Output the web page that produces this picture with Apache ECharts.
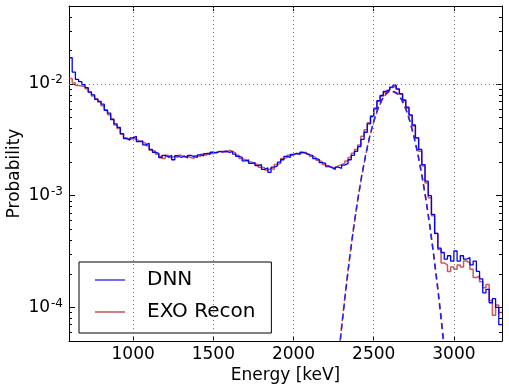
<!DOCTYPE html>
<html>
<head>
<meta charset="utf-8">
<script src="https://cdn.jsdelivr.net/npm/echarts@6/dist/echarts.min.js"></script>
<style>
  html, body { margin: 0; padding: 0; background: #fff; }
  #echartsMain { width: 509px; height: 391px; }
</style>
</head>
<body>
<div id="echartsMain"></div>
<script type="text/javascript">
// histogram bins: left edges 600, 620, ... 3280 keV, width 20 keV
var binStart = 600;
var binWidth = 20;

// DNN histogram (probability per bin)
var dnnValues = [
  1.72e-2, 1.28e-2, 1.10e-2, 1.05e-2, 9.9e-3, 9.3e-3, 8.5e-3, 8.0e-3, 7.3e-3, 7.0e-3,
  6.6e-3, 5.8e-3, 5.5e-3, 4.8e-3, 4.4e-3, 4.1e-3, 3.6e-3, 3.25e-3, 3.15e-3, 3.3e-3,
  3.4e-3, 3.05e-3, 3.1e-3, 2.85e-3, 2.95e-3, 2.6e-3, 2.45e-3, 2.4e-3, 2.2e-3, 2.3e-3,
  2.22e-3, 2.3e-3, 2.1e-3, 2.28e-3, 2.2e-3, 2.27e-3, 2.18e-3, 2.3e-3, 2.24e-3, 2.2e-3,
  2.32e-3, 2.28e-3, 2.38e-3, 2.34e-3, 2.45e-3, 2.42e-3, 2.5e-3, 2.46e-3, 2.52e-3, 2.44e-3,
  2.48e-3, 2.36e-3, 2.25e-3, 2.2e-3, 2.05e-3, 2.1e-3, 1.95e-3, 1.98e-3, 1.86e-3, 1.9e-3,
  1.72e-3, 1.78e-3, 1.62e-3, 1.8e-3, 1.85e-3, 2.0e-3, 2.1e-3, 2.25e-3, 2.2e-3, 2.34e-3,
  2.38e-3, 2.35e-3, 2.45e-3, 2.4e-3, 2.32e-3, 2.3e-3, 2.15e-3, 2.12e-3, 1.98e-3, 1.95e-3,
  1.85e-3, 1.78e-3, 1.72e-3, 1.8e-3, 1.76e-3, 1.88e-3, 1.95e-3, 2.1e-3, 2.3e-3, 2.5e-3,
  2.75e-3, 3.2e-3, 3.7e-3, 4.4e-3, 5.1e-3, 6.0e-3, 7.1e-3, 7.9e-3, 8.6e-3, 8.9e-3,
  9.4e-3, 9.8e-3, 9.0e-3, 8.2e-3, 7.2e-3, 6.2e-3, 5.3e-3, 4.3e-3, 3.3e-3, 2.6e-3,
  1.9e-3, 1.35e-3, 1.0e-3, 6.8e-4, 4.6e-4, 3.4e-4, 3.1e-4, 2.7e-4, 2.9e-4, 2.6e-4,
  3.2e-4, 2.6e-4, 2.9e-4, 2.7e-4, 2.8e-4, 2.4e-4, 2.6e-4, 2.1e-4, 1.8e-4, 1.35e-4,
  1.45e-4, 1.1e-4, 1.2e-4, 1.0e-4, 7.0e-5
];

// EXO Recon histogram
var exoValues = [
  1.12e-2, 1.02e-2, 9.7e-3, 9.6e-3, 9.5e-3, 9.1e-3, 8.4e-3, 7.8e-3, 7.4e-3, 6.9e-3,
  6.4e-3, 5.9e-3, 5.3e-3, 4.9e-3, 4.3e-3, 4.0e-3, 3.55e-3, 3.3e-3, 3.2e-3, 3.25e-3,
  3.2e-3, 3.1e-3, 3.0e-3, 2.95e-3, 2.8e-3, 2.55e-3, 2.5e-3, 2.35e-3, 2.25e-3, 2.15e-3,
  2.3e-3, 2.2e-3, 2.25e-3, 2.2e-3, 2.3e-3, 2.22e-3, 2.26e-3, 2.2e-3, 2.15e-3, 2.28e-3,
  2.25e-3, 2.35e-3, 2.3e-3, 2.4e-3, 2.38e-3, 2.46e-3, 2.48e-3, 2.5e-3, 2.45e-3, 2.55e-3,
  2.5e-3, 2.4e-3, 2.3e-3, 2.15e-3, 2.1e-3, 2.02e-3, 2.0e-3, 1.92e-3, 1.9e-3, 1.8e-3,
  1.78e-3, 1.7e-3, 1.75e-3, 1.72e-3, 1.9e-3, 1.95e-3, 2.15e-3, 2.2e-3, 2.3e-3, 2.32e-3,
  2.4e-3, 2.38e-3, 2.42e-3, 2.45e-3, 2.35e-3, 2.25e-3, 2.2e-3, 2.08e-3, 2.0e-3, 1.9e-3,
  1.82e-3, 1.8e-3, 1.78e-3, 1.85e-3, 1.9e-3, 1.95e-3, 2.05e-3, 2.2e-3, 2.4e-3, 2.6e-3,
  2.85e-3, 3.4e-3, 3.9e-3, 4.5e-3, 5.2e-3, 6.1e-3, 7.0e-3, 7.8e-3, 8.4e-3, 8.8e-3,
  9.3e-3, 9.6e-3, 9.1e-3, 8.1e-3, 7.1e-3, 6.1e-3, 5.2e-3, 4.2e-3, 3.3e-3, 2.5e-3,
  1.85e-3, 1.3e-3, 9.6e-4, 6.6e-4, 4.6e-4, 3.3e-4, 2.5e-4, 2.4e-4, 2.1e-4, 2.3e-4,
  2.2e-4, 2.4e-4, 2.3e-4, 2.6e-4, 2.5e-4, 2.2e-4, 1.85e-4, 1.9e-4, 1.7e-4, 1.5e-4,
  1.6e-4, 1.15e-4, 8.5e-5, 1.05e-4, 9.0e-5
];

// fitted peak curves (dashed)
var fitEnergy = [2280, 2300, 2325, 2350, 2375, 2400, 2425, 2450, 2475, 2500, 2525, 2550, 2575, 2600, 2613,
                 2625, 2650, 2675, 2700, 2725, 2750, 2775, 2800, 2825, 2850, 2875, 2900, 2925, 2950];
var fitDnn = [3.44e-5, 6.57e-5, 1.39e-4, 2.77e-4, 5.18e-4, 9.11e-4, 1.50e-3, 2.33e-3, 3.40e-3, 4.65e-3,
              5.98e-3, 7.22e-3, 8.19e-3, 8.73e-3, 8.8e-3, 8.74e-3, 8.22e-3, 7.26e-3, 6.03e-3, 4.70e-3,
              3.44e-3, 2.37e-3, 1.53e-3, 9.3e-4, 5.31e-4, 2.84e-4, 1.43e-4, 6.78e-5, 3.0e-5];
var fitExo = [3.6e-5, 6.8e-5, 1.42e-4, 2.8e-4, 5.2e-4, 9.1e-4, 1.49e-3, 2.3e-3, 3.35e-3, 4.58e-3,
              5.9e-3, 7.1e-3, 8.05e-3, 8.6e-3, 8.65e-3, 8.6e-3, 8.1e-3, 7.18e-3, 5.98e-3, 4.68e-3,
              3.44e-3, 2.38e-3, 1.55e-3, 9.5e-4, 5.45e-4, 2.95e-4, 1.5e-4, 7.2e-5, 3.3e-5];

// axis ticks
var xTicks = [1000, 1500, 2000, 2500, 3000];
var yMajor = [1e-4, 1e-3, 1e-2];
var yMinor = [6e-5, 7e-5, 8e-5, 9e-5, 2e-4, 3e-4, 4e-4, 5e-4, 6e-4, 7e-4, 8e-4, 9e-4,
              2e-3, 3e-3, 4e-3, 5e-3, 6e-3, 7e-3, 8e-3, 9e-3, 2e-2, 3e-2, 4e-2];

var font = 'DejaVu Sans';

function histPoints(vals) {
    var d = [];
    for (var i = 0; i < vals.length; i++) {
        d.push([binStart + i * binWidth, vals[i]]);
    }
    d.push([binStart + vals.length * binWidth, vals[vals.length - 1]]);
    return d;
}
function pairs(xs, ys) {
    var d = [];
    for (var i = 0; i < xs.length; i++) d.push([xs[i], ys[i]]);
    return d;
}

var myChart = echarts.init(document.getElementById('echartsMain'));

var frame = { lineStyle: { color: '#000', width: 1 } };
function yAx(pos, ticks, len, withLabel, withLine) {
    return {
        type: 'log', logBase: 10, min: 5e-5, max: 5e-2, position: pos,
        axisLine: { show: withLine, lineStyle: frame.lineStyle },
        axisTick: { show: true, inside: true, length: len, customValues: ticks, lineStyle: { color: '#000' } },
        axisLabel: withLabel ? {
            show: true, customValues: ticks, margin: 6,
            formatter: function (v) {
                return '{b|10}{s|' + Math.round(Math.log10(v)) + '}';
            },
            rich: {
                b: { fontSize: 17, fontFamily: font, color: '#000' },
                s: { fontSize: 12, fontFamily: font, color: '#000', padding: [0, 0, 8, 1] }
            }
        } : { show: false },
        splitLine: { show: false },
        name: withLabel ? 'Probability' : '',
        nameLocation: 'middle', nameGap: 46, nameMoveOverlap: false,
        nameTextStyle: { fontSize: 17, fontFamily: font, color: '#000' }
    };
}

var option = {
    animation: false,
    grid: { left: 69, right: 7, top: 6, bottom: 50, containLabel: false, outerBoundsMode: 'none' },
    legend: {
        data: ['DNN', 'EXO Recon'],
        orient: 'vertical', left: 79, top: 262,
        backgroundColor: '#fff', borderColor: '#000', borderWidth: 1,
        borderRadius: 0,
        padding: [6, 16, 9, 16],
        icon: 'rect', itemWidth: 30, itemHeight: 2, itemGap: 8,
        textStyle: { fontSize: 20, fontFamily: font, color: '#000', lineHeight: 24, padding: [0, 0, 0, 17] }
    },
    xAxis: [{
        type: 'value', min: 600, max: 3300, position: 'bottom',
        axisLine: frame,
        axisTick: { inside: true, length: 5, customValues: xTicks, lineStyle: { color: '#000' } },
        axisLabel: {
            customValues: xTicks, fontSize: 17, fontFamily: font, color: '#000', margin: 5,
            formatter: function (v) { return String(v); }
        },
        splitLine: { show: false },
        name: 'Energy [keV]', nameLocation: 'middle', nameGap: 26, nameMoveOverlap: false,
        nameTextStyle: { fontSize: 17, fontFamily: font, color: '#000' }
    }, {
        type: 'value', min: 600, max: 3300, position: 'top',
        axisLine: frame,
        axisTick: { inside: true, length: 5, customValues: xTicks, lineStyle: { color: '#000' } },
        axisLabel: { show: false },
        splitLine: { show: false }
    }],
    yAxis: [
        yAx('left', yMajor, 6, true, true),
        yAx('left', yMinor, 3, false, false),
        yAx('right', yMajor, 6, false, true),
        yAx('right', yMinor, 3, false, false)
    ],
    series: [{
        name: 'grid', type: 'line', data: [], z: 1, silent: true,
        markLine: {
            silent: true, symbol: 'none', label: { show: false },
            lineStyle: { color: '#777', type: [1, 3], width: 1 },
            data: xTicks.map(function (v) { return { xAxis: v }; })
                .concat(yMajor.map(function (v) { return { yAxis: v }; }))
        }
    }, {
        name: 'EXO Recon', type: 'line', step: 'end', showSymbol: false, z: 3,
        data: histPoints(exoValues),
        itemStyle: { color: 'rgba(196,70,70,0.7)' },
        lineStyle: { color: 'rgba(196,60,60,0.85)', width: 1.5 }
    }, {
        name: 'DNN', type: 'line', step: 'end', showSymbol: false, z: 4,
        data: histPoints(dnnValues),
        itemStyle: { color: 'rgba(60,60,255,0.75)' },
        lineStyle: { color: '#0000ff', width: 1.3 }
    }, {
        name: 'EXO fit', type: 'line', showSymbol: false, z: 5,
        data: pairs(fitEnergy, fitExo),
        lineStyle: { color: '#c43c3c', width: 1.5, type: [6, 4], dashOffset: 4 }
    }, {
        name: 'DNN fit', type: 'line', showSymbol: false, z: 6,
        data: pairs(fitEnergy, fitDnn),
        lineStyle: { color: '#2020ff', width: 1.5, type: [6, 4] }
    }]
};
myChart.setOption(option);
</script>
</body>
</html>
